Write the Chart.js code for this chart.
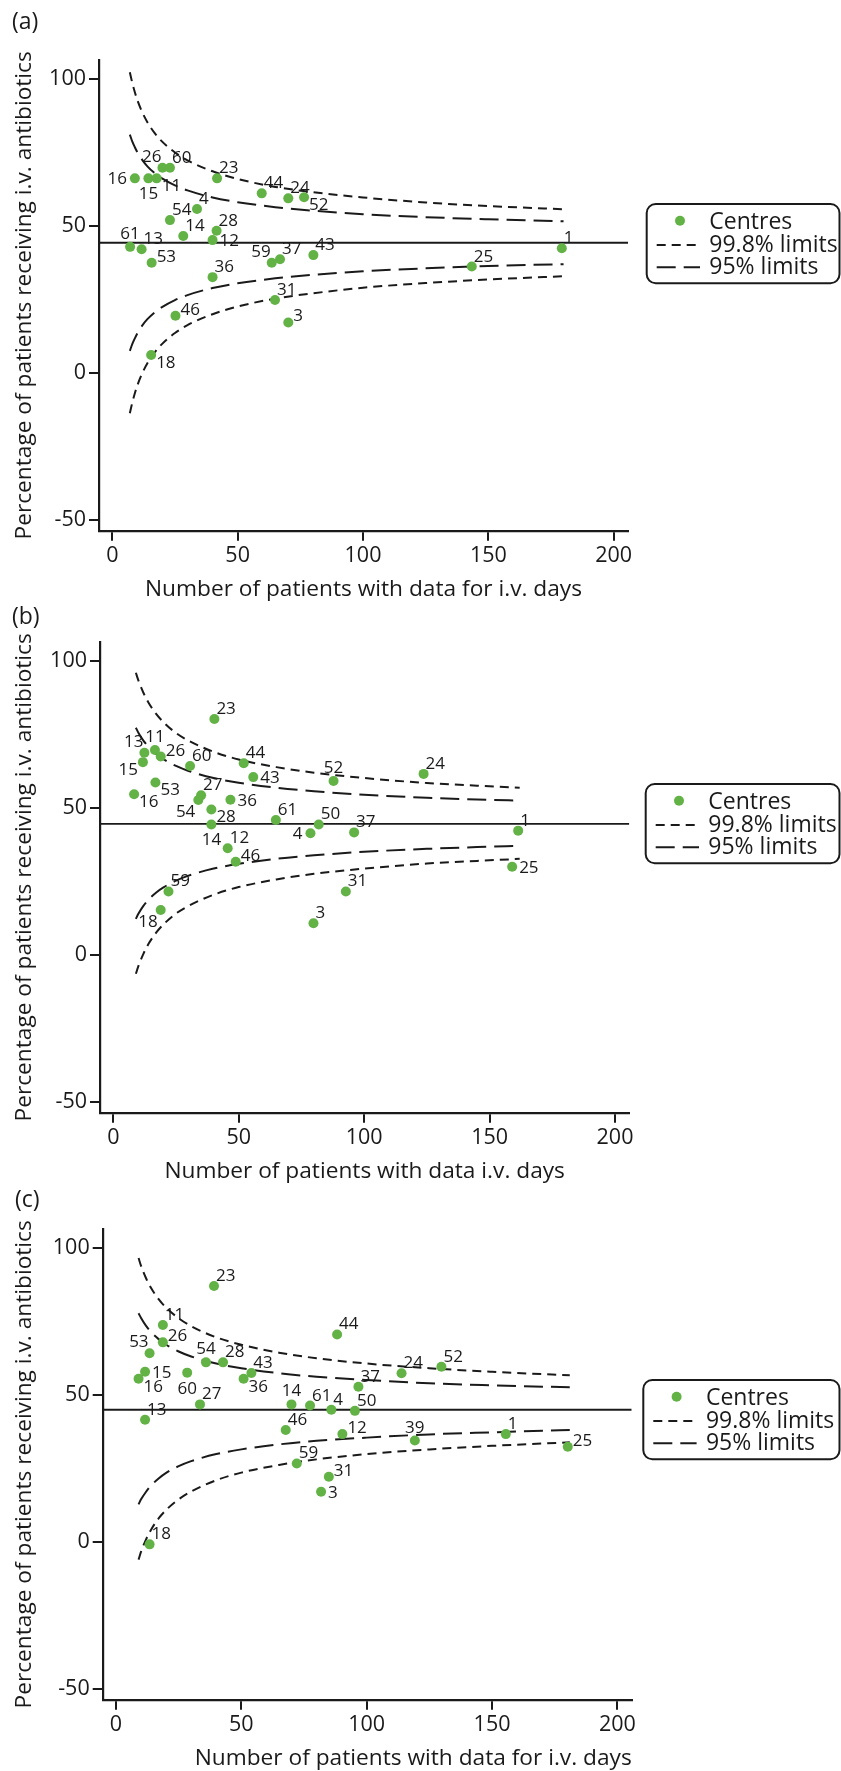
<!DOCTYPE html>
<html>
<head>
<meta charset="utf-8">
<title>Funnel plots: i.v. antibiotics by centre</title>
<script src="https://cdn.jsdelivr.net/npm/chart.js@4.4.1/dist/chart.umd.min.js"></script>
<style>
  html, body { margin: 0; padding: 0; background: #fff; overflow: hidden; }
  #wrap { position: relative; width: 841px; height: 1771px; }
  canvas { position: absolute; left: 0; }
</style>
</head>
<body>
<div id="wrap">
  <canvas id="chartA" width="841" height="602" style="top:0px;width:841px;height:602px"></canvas>
  <canvas id="chartB" width="841" height="602" style="top:582px;width:841px;height:602px"></canvas>
  <canvas id="chartC" width="841" height="602" style="top:1169px;width:841px;height:602px"></canvas>
</div>
<script>
var FONT = "'Open Sans', 'Noto Sans', sans-serif";
var GREEN = "#62b246";
var INK = "#1a1a1a";

// shared axes
var xTicks = [0, 50, 100, 150, 200];
var yTicks = [-50, 0, 50, 100];
var xRange = [-5.3, 205.7];
var yRange = [-53.64, 106.46];
var yTitle = "Percentage of patients receiving i.v. antibiotics";

// ---- panel (a)
var idsA = [16, 15, 11, 26, 60, 23, 44, 24, 52, 4, 54, 28, 14, 12, 61, 13, 53, 36, 59, 37, 43, 31, 3, 46, 18, 25, 1];
var nA   = [9.0, 14.4, 17.7, 20.0, 23.0, 41.8, 59.6, 70.2, 76.5, 33.8, 23.0, 41.6, 28.3, 40.0, 7.1, 11.7, 15.7, 40.0, 63.6, 66.9, 80.2, 64.9, 70.2, 25.2, 15.5, 143.4, 179.3];
var pctA = [66.2, 66.2, 66.2, 69.8, 69.8, 66.2, 61.1, 59.4, 59.8, 55.8, 52.0, 48.4, 46.6, 45.2, 42.9, 42.1, 37.5, 32.6, 37.5, 38.7, 40.1, 24.8, 17.2, 19.5, 6.1, 36.2, 42.4];
var targetA = 44.3;
var limNA  = [7, 8, 9, 10, 12, 14, 17, 20, 25, 30, 40, 50, 65, 80, 100, 125, 150, 180];
var up998A = [102.3, 98.6, 95.5, 92.8, 88.6, 85.3, 81.5, 78.6, 75.0, 72.3, 68.6, 66.0, 63.3, 61.5, 59.7, 58.0, 56.8, 55.7];
var lo998A = [-13.7, -10.0, -6.9, -4.2, 0.0, 3.3, 7.1, 10.0, 13.6, 16.3, 20.0, 22.6, 25.3, 27.1, 29.0, 30.6, 31.8, 32.9];
var up95A  = [81.1, 78.7, 76.8, 75.1, 72.4, 70.3, 67.9, 66.1, 63.8, 62.1, 59.7, 58.1, 56.4, 55.2, 54.0, 53.0, 52.3, 51.6];
var lo95A  = [7.5, 9.9, 11.8, 13.5, 16.2, 18.3, 20.7, 22.5, 24.8, 26.5, 28.9, 30.5, 32.2, 33.4, 34.6, 35.6, 36.4, 37.0];

// ---- panel (b)
var idsB = [23, 13, 11, 26, 15, 60, 44, 43, 52, 53, 16, 27, 54, 36, 28, 61, 14, 50, 4, 37, 12, 46, 59, 31, 18, 3, 24, 1, 25];
var nB   = [40.3, 12.4, 16.6, 18.9, 11.8, 30.6, 52.0, 55.8, 87.8, 16.8, 8.3, 35.0, 33.9, 46.7, 39.1, 64.8, 39.1, 81.9, 78.6, 96.0, 45.6, 48.8, 22.0, 92.7, 18.9, 79.8, 123.7, 161.4, 159.0];
var pctB = [80.3, 68.8, 69.7, 67.5, 65.6, 64.3, 65.2, 60.5, 59.2, 58.7, 54.7, 54.3, 52.7, 52.8, 49.5, 45.9, 44.4, 44.4, 41.4, 41.7, 36.3, 31.7, 21.6, 21.6, 15.3, 10.8, 61.6, 42.3, 30.0];
var targetB = 44.6;
var limNB  = [9, 10, 12, 14, 17, 20, 25, 30, 40, 50, 65, 80, 100, 125, 145, 162];
var up998B = [96.0, 93.4, 89.2, 85.9, 82.1, 79.2, 75.5, 72.9, 69.1, 66.5, 63.9, 62.0, 60.2, 58.5, 57.6, 56.9];
var lo998B = [-6.4, -3.8, 0.4, 3.7, 7.5, 10.4, 14.1, 16.7, 20.5, 23.1, 25.7, 27.6, 29.4, 31.1, 32.0, 32.7];
var up95B  = [77.3, 75.6, 72.9, 70.9, 68.4, 66.6, 64.3, 62.6, 60.2, 58.6, 56.9, 55.7, 54.5, 53.5, 52.9, 52.5];
var lo95B  = [12.3, 14.0, 16.7, 18.8, 21.2, 23.0, 25.3, 27.0, 29.4, 31.0, 32.7, 33.9, 35.1, 36.1, 36.7, 37.1];

// ---- panel (c)
var idsC = [23, 11, 44, 26, 53, 54, 28, 15, 60, 43, 16, 36, 37, 27, 14, 61, 4, 50, 13, 46, 12, 39, 59, 24, 52, 1, 25, 31, 3, 18];
var nC   = [39.1, 18.7, 88.2, 18.7, 13.4, 35.9, 42.7, 11.6, 28.4, 54.0, 9.0, 50.9, 96.7, 33.5, 70.0, 77.4, 85.9, 95.3, 11.6, 67.7, 90.3, 119.2, 72.1, 113.9, 129.8, 155.5, 180.2, 84.9, 81.8, 13.4];
var pctC = [87.1, 73.8, 70.6, 67.9, 64.2, 61.1, 61.1, 57.9, 57.6, 57.5, 55.5, 55.5, 52.8, 46.8, 46.8, 46.4, 45.0, 44.6, 41.6, 38.1, 36.7, 34.5, 26.7, 57.4, 59.6, 36.7, 32.4, 22.2, 17.1, -0.8];
var targetC = 45.0;
var limNC  = [9, 10, 12, 14, 17, 20, 25, 30, 40, 50, 65, 80, 100, 125, 150, 181];
var up998C = [96.6, 93.9, 89.7, 86.4, 82.6, 79.7, 76.1, 73.4, 69.6, 67.1, 64.4, 62.5, 60.7, 59.1, 57.9, 56.7];
var lo998C = [-6.0, -3.3, 0.9, 4.2, 8.0, 10.9, 14.5, 17.2, 21.0, 23.6, 26.2, 28.1, 29.9, 31.5, 32.7, 33.9];
var up95C  = [77.8, 76.2, 73.5, 71.4, 69.0, 67.1, 64.8, 63.1, 60.7, 59.1, 57.4, 56.2, 55.1, 54.0, 53.3, 52.6];
var lo95C  = [12.8, 14.5, 17.1, 19.2, 21.6, 23.5, 25.8, 27.5, 29.9, 31.5, 33.2, 34.4, 35.5, 36.6, 37.3, 38.1];

// marker label positions (clock style), one per centre
var labPosA = [9, 6, 4, 11, 1, 1, 1, 1, 4, 1, 1, 1, 1, 3, 12, 1, 2, 1, 11, 1, 1, 1, 2, 2, 4, 1, 1];
var labPosB = [1, 11, 12, 2, 8, 1, 1, 3, 12, 4, 4, 1, 7, 3, 4, 1, 6, 1, 9, 1, 1, 2, 1, 1, 7, 1, 1, 1, 3];
var labPosC = [1, 1, 1, 2, 11, 12, 1, 3, 6, 1, 4, 4, 1, 1, 12, 1, 1, 1, 1, 1, 2, 12, 1, 1, 1, 1, 2, 2, 3, 1];

var clockPos = {
  12: [0, -14, 'center'], 1: [2, -11, 'left'], 2: [5, -7, 'left'], 3: [7, 0, 'left'],
  4: [5, 7, 'left'], 6: [0, 15, 'center'], 7: [-3, 11, 'right'], 8: [-5, 7, 'right'],
  9: [-8, 0, 'right'], 11: [-1, -12, 'right']
};

var centreLabels = {
  id: 'centreLabels',
  afterDatasetsDraw: function (chart, args, opts) {
    var ctx = chart.ctx;
    var meta = chart.getDatasetMeta(0);
    ctx.save();
    ctx.font = '17px ' + FONT;
    ctx.fillStyle = INK;
    ctx.textBaseline = 'alphabetic';
    meta.data.forEach(function (pt, i) {
      var o = clockPos[opts.pos[i]];
      ctx.textAlign = o[2];
      ctx.fillText(String(opts.ids[i]), pt.x + o[0], pt.y + o[1] + 6);
    });
    ctx.restore();
  }
};

var panelTag = {
  id: 'panelTag',
  afterDraw: function (chart, args, opts) {
    var ctx = chart.ctx;
    ctx.save();
    ctx.font = '23px ' + FONT;
    ctx.fillStyle = INK;
    ctx.textAlign = 'left';
    ctx.textBaseline = 'middle';
    ctx.fillText(opts.text, opts.x, opts.y);
    ctx.restore();
  }
};

var boxLegend = {
  id: 'boxLegend',
  afterDraw: function (chart, args, o) {
    var ctx = chart.ctx, ds = chart.data.datasets;
    var l = o.left, t = o.top, w = o.right - o.left, h = 79.3, r = 9;
    ctx.save();
    ctx.strokeStyle = INK;
    ctx.lineWidth = 2;
    ctx.beginPath();
    ctx.moveTo(l + r, t);
    ctx.lineTo(l + w - r, t);
    ctx.arcTo(l + w, t, l + w, t + r, r);
    ctx.lineTo(l + w, t + h - r);
    ctx.arcTo(l + w, t + h, l + w - r, t + h, r);
    ctx.lineTo(l + r, t + h);
    ctx.arcTo(l, t + h, l, t + h - r, r);
    ctx.lineTo(l, t + r);
    ctx.arcTo(l, t, l + r, t, r);
    ctx.closePath();
    ctx.stroke();

    ctx.fillStyle = GREEN;
    ctx.beginPath();
    ctx.arc(l + 33.3, t + 16.7, 5, 0, Math.PI * 2);
    ctx.fill();

    ctx.lineWidth = 2;
    ctx.setLineDash(ds[2].borderDash);
    ctx.beginPath(); ctx.moveTo(l + 10, t + 41); ctx.lineTo(l + 53.3, t + 41); ctx.stroke();
    ctx.setLineDash(ds[4].borderDash);
    ctx.beginPath(); ctx.moveTo(l + 10, t + 63.3); ctx.lineTo(l + 53.3, t + 63.3); ctx.stroke();
    ctx.setLineDash([]);

    ctx.fillStyle = INK;
    ctx.font = '23px ' + FONT;
    ctx.textAlign = 'left';
    ctx.textBaseline = 'alphabetic';
    ctx.fillText(ds[0].label, l + 62.6, t + 25.3);
    ctx.fillText(ds[2].label, l + 62.6, t + 47.7);
    ctx.fillText(ds[4].label, l + 62.6, t + 70);
    ctx.restore();
  }
};

function makePanel(id, p) {
  var H = 602, plotTop = 60, plotBottom = 530.7, titleY = 590, titleSize = 22.7;
  function xy(xs, ys) { return xs.map(function (v, i) { return { x: v, y: ys[i] }; }); }
  function limit(label, vals, dash) {
    return {
      type: 'line', label: label, data: xy(p.limN, vals), showLine: true,
      pointRadius: 0, borderColor: INK, borderWidth: 2, borderDash: dash,
      cubicInterpolationMode: 'monotone', fill: false
    };
  }
  return new Chart(document.getElementById(id).getContext('2d'), {
    type: 'scatter',
    data: {
      datasets: [
        { label: 'Centres', data: xy(p.n, p.pct), pointRadius: 5, pointBackgroundColor: GREEN,
          pointBorderWidth: 0, backgroundColor: GREEN, borderColor: GREEN },
        { type: 'line', label: 'Target', data: xy(xRange, [p.target, p.target]), showLine: true,
          pointRadius: 0, borderColor: INK, borderWidth: 1.9 },
        limit('99.8% limits', p.up998, [9, 6]),
        limit('99.8% limits', p.lo998, [9, 6]),
        limit('95% limits', p.up95, [19, 8]),
        limit('95% limits', p.lo95, [19, 8])
      ]
    },
    options: {
      responsive: false,
      animation: false,
      devicePixelRatio: 1,
      events: [],
      layout: { padding: { left: 0, top: plotTop, right: 841 - p.right, bottom: 0 } },
      scales: {
        x: {
          type: 'linear', min: xRange[0], max: xRange[1],
          afterBuildTicks: function (s) { s.ticks = xTicks.map(function (v) { return { value: v }; }); },
          afterFit: function (s) { s.height = H - plotBottom; },
          grid: { drawOnChartArea: false, drawTicks: true, tickLength: 10, color: INK, lineWidth: 2 },
          border: { display: true, color: INK, width: 2.2 },
          ticks: { color: INK, font: { family: FONT, size: 21.5 }, padding: 2, maxRotation: 0, autoSkip: false },
          title: { display: true, text: p.xTitle, color: INK, align: p.xTitleAlign || 'center',
                   font: { family: FONT, size: titleSize, lineHeight: 1 },
                   padding: { top: 0, bottom: H - titleY - titleSize / 2 } }
        },
        y: {
          type: 'linear', min: yRange[0], max: yRange[1],
          afterBuildTicks: function (s) { s.ticks = yTicks.map(function (v) { return { value: v }; }); },
          afterFit: function (s) { s.width = p.left; },
          grid: { drawOnChartArea: false, drawTicks: true, tickLength: 10, color: INK, lineWidth: 2 },
          border: { display: true, color: INK, width: 2.2 },
          ticks: { color: INK, font: { family: FONT, size: 21.5 }, padding: 3, autoSkip: false },
          title: { display: true, text: yTitle, color: INK,
                   font: { family: FONT, size: titleSize, lineHeight: 1 },
                   padding: { top: 25 - titleSize / 2, bottom: 0 } }
        }
      },
      plugins: {
        legend: { display: false },
        tooltip: { enabled: false },
        centreLabels: { ids: p.ids, pos: p.pos },
        panelTag: p.tag,
        boxLegend: p.legend
      }
    },
    plugins: [centreLabels, panelTag, boxLegend]
  });
}

makePanel('chartA', {
  ids: idsA, n: nA, pct: pctA, pos: labPosA, target: targetA,
  limN: limNA, up998: up998A, lo998: lo998A, up95: up95A, lo95: lo95A,
  left: 99, right: 628,
  xTitle: 'Number of patients with data for i.v. days',
  tag: { text: '(a)', x: 12, y: 22 },
  legend: { left: 646.7, top: 204, right: 839.5 }
});

makePanel('chartB', {
  ids: idsB, n: nB, pct: pctB, pos: labPosB, target: targetB,
  limN: limNB, up998: up998B, lo998: lo998B, up95: up95B, lo95: lo95B,
  left: 100, right: 629.3,
  xTitle: 'Number of patients with data i.v. days',
  tag: { text: '(b)', x: 12, y: 35 },
  legend: { left: 645.7, top: 202, right: 839.5 }
});

makePanel('chartC', {
  ids: idsC, n: nC, pct: pctC, pos: labPosC, target: targetC,
  limN: limNC, up998: up998C, lo998: lo998C, up95: up95C, lo95: lo95C,
  left: 102.7, right: 631.7,
  xTitle: 'Number of patients with data for i.v. days',
  xTitleAlign: 'end',
  tag: { text: '(c)', x: 15, y: 31 },
  legend: { left: 643.3, top: 211, right: 839.5 }
});
</script>
</body>
</html>
